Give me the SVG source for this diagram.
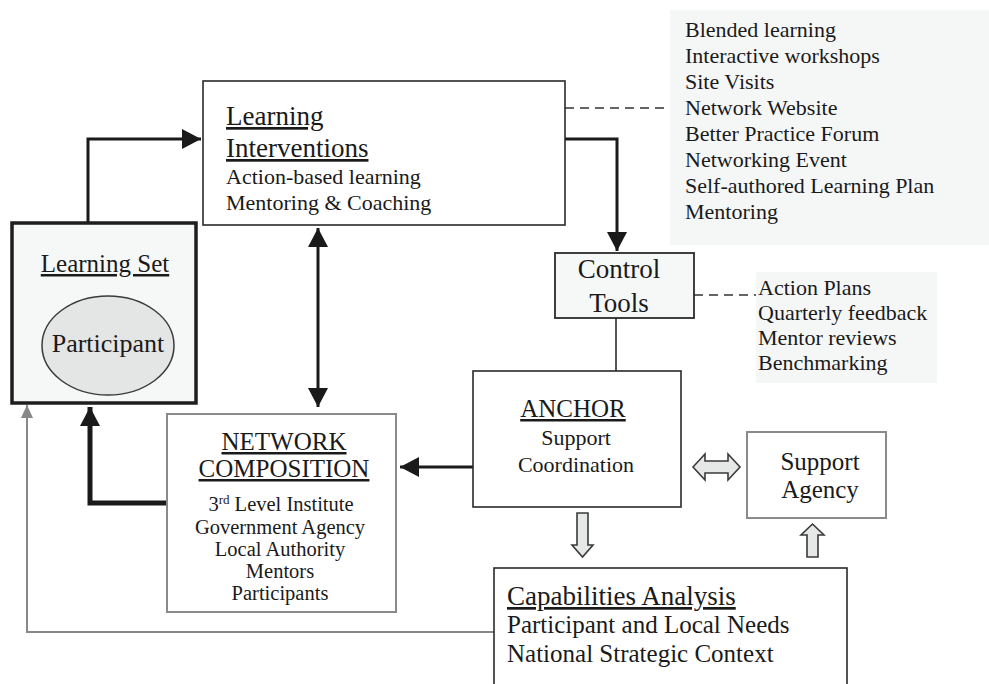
<svg xmlns="http://www.w3.org/2000/svg" width="989" height="684" viewBox="0 0 989 684">
  <style>
    text { font-family: "Liberation Serif", "Times New Roman", serif; fill: #1a1a1a; }
    .h27 { font-size: 27px; }
    .h25 { font-size: 25px; }
    .b22 { font-size: 22px; }
    .b20 { font-size: 20.5px; }
    .b25 { font-size: 25px; }
    .u { text-decoration: underline; }
    .mid { text-anchor: middle; }
    .box { fill: #ffffff; stroke: #2a2a2a; stroke-width: 1.6; }
    .gbox { fill: #ffffff; stroke: #8a8a8a; stroke-width: 2; }
    .panel { fill: #f5f7f7; stroke: none; }
    .wire { fill: none; stroke: #1a1a1a; stroke-width: 3; }
    .dash { fill: none; stroke: #333; stroke-width: 1.5; stroke-dasharray: 9 6; }
    .block { fill: #e6e7e7; stroke: #3a3a3a; stroke-width: 1.6; stroke-linejoin: miter; }
  </style>
  <defs>
    <marker id="head" markerUnits="userSpaceOnUse" markerWidth="20" markerHeight="20" refX="19" refY="10" orient="auto-start-reverse">
      <path d="M0,0 L19,10 L0,20 z" fill="#1a1a1a"/>
    </marker>
    <marker id="headGray" markerUnits="userSpaceOnUse" markerWidth="14" markerHeight="14" refX="13" refY="7" orient="auto">
      <path d="M0,1 L13,7 L0,13 z" fill="#888888"/>
    </marker>
  </defs>

  <!-- side panels with activity lists -->
  <g id="interventions-list">
    <rect class="panel" x="670" y="10" width="319" height="235"/>
    <text class="b22" x="685" y="37">Blended learning</text>
    <text class="b22" x="685" y="63">Interactive workshops</text>
    <text class="b22" x="685" y="89">Site Visits</text>
    <text class="b22" x="685" y="115">Network Website</text>
    <text class="b22" x="685" y="141">Better Practice Forum</text>
    <text class="b22" x="685" y="167">Networking Event</text>
    <text class="b22" x="685" y="193">Self-authored Learning Plan</text>
    <text class="b22" x="685" y="219">Mentoring</text>
  </g>

  <g id="control-list">
    <rect class="panel" x="756" y="272" width="181" height="111"/>
    <text class="b22" x="758" y="295">Action Plans</text>
    <text class="b22" x="758" y="320">Quarterly feedback</text>
    <text class="b22" x="758" y="345">Mentor reviews</text>
    <text class="b22" x="758" y="370">Benchmarking</text>
  </g>

  <!-- connectors -->
  <g id="connectors">
    <path class="dash" d="M565,108 H670"/>
    <path class="dash" d="M694,295 H756"/>
    <path class="wire" d="M88,223 V139 H201" marker-end="url(#head)"/>
    <path class="wire" d="M565,139 H617 V251" marker-end="url(#head)"/>
    <path class="wire" d="M318,228 V407" marker-start="url(#head)" marker-end="url(#head)"/>
    <path fill="none" stroke="#555" stroke-width="2" d="M616,318 V371"/>
    <path class="wire" d="M473,467 H400" marker-end="url(#head)"/>
    <path fill="none" stroke="#1a1a1a" stroke-width="5" d="M167,503 H90 V407" marker-end="url(#head)"/>
    <path fill="none" stroke="#888888" stroke-width="2" d="M494,632 H27 V405" marker-end="url(#headGray)"/>
    <polygon class="block" points="693,467 705,454 705,461 728,461 728,454 740,467 728,480 728,473 705,473 705,480"/>
    <polygon class="block" points="577,513 588,513 588,545 593,545 582.5,557 572,545 577,545"/>
    <polygon class="block" points="807,557 818,557 818,535 824,535 812.5,524 801,535 807,535"/>
  </g>

  <!-- nodes -->
  <g id="learning-interventions">
    <rect class="box" x="203" y="81" width="362" height="144"/>
    <text class="h27 u" x="226" y="125">Learning</text>
    <text class="h27 u" x="226" y="157">Interventions</text>
    <text class="b22" x="226" y="184">Action-based learning</text>
    <text class="b22" x="226" y="210">Mentoring &amp; Coaching</text>
  </g>

  <g id="learning-set">
    <rect x="12" y="223" width="184" height="180" fill="#f6f7f7" stroke="#1e1e1e" stroke-width="3.5"/>
    <text class="h25 u mid" x="105" y="272">Learning Set</text>
    <ellipse cx="108" cy="345.5" rx="66" ry="49.5" fill="#e4e5e5" stroke="#3a3a3a" stroke-width="1.5"/>
    <text class="h25 mid" x="108" y="352" style="font-size:26px">Participant</text>
  </g>

  <g id="control-tools">
    <rect x="555" y="253" width="139" height="65" fill="#f6f7f7" stroke="#2a2a2a" stroke-width="1.8"/>
    <text class="h27 mid" x="619" y="278">Control</text>
    <text class="h27 mid" x="619" y="312">Tools</text>
  </g>

  <g id="network-composition">
    <rect class="gbox" x="167" y="414" width="229" height="198"/>
    <text class="h25 u mid" x="284" y="450">NETWORK</text>
    <text class="h25 u mid" x="284" y="477">COMPOSITION</text>
    <text class="b20 mid" x="281" y="511">3<tspan font-size="13" baseline-shift="super">rd</tspan> Level Institute</text>
    <text class="b20 mid" x="280" y="534">Government Agency</text>
    <text class="b20 mid" x="280" y="556">Local Authority</text>
    <text class="b20 mid" x="280" y="578">Mentors</text>
    <text class="b20 mid" x="280" y="600">Participants</text>
  </g>

  <g id="anchor">
    <rect class="box" x="473" y="371" width="208" height="136"/>
    <text class="h25 u mid" x="573" y="417">ANCHOR</text>
    <text class="b22 mid" x="576" y="445">Support</text>
    <text class="b22 mid" x="576" y="472">Coordination</text>
  </g>

  <g id="support-agency">
    <rect class="gbox" x="747" y="432" width="139" height="86"/>
    <text class="b25 mid" x="820" y="470">Support</text>
    <text class="b25 mid" x="820" y="498">Agency</text>
  </g>

  <g id="capabilities-analysis">
    <rect class="box" x="494" y="568" width="353" height="140"/>
    <text class="h27 u" x="507" y="605">Capabilities Analysis</text>
    <text class="b25" x="507" y="633">Participant and Local Needs</text>
    <text class="b25" x="507" y="662">National Strategic Context</text>
  </g>
</svg>
